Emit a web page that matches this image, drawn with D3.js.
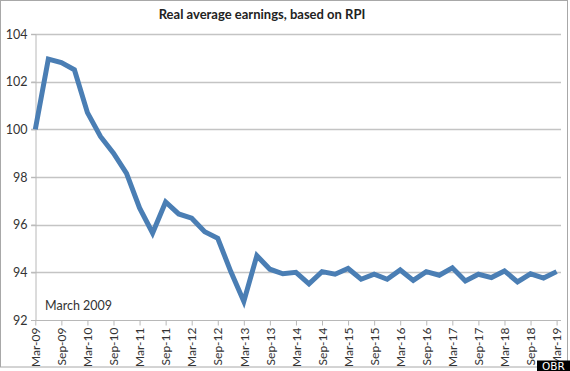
<!DOCTYPE html>
<html><head><meta charset="utf-8">
<script src="https://cdn.jsdelivr.net/npm/d3@7/dist/d3.min.js"></script>
<style>body{margin:0;background:#fff}svg{display:block}</style>
</head><body>
<svg id="c" width="570" height="371"></svg>
<script>
const title = "Real average earnings, based on RPI";
const tickLabels = ["Mar-09","Sep-09","Mar-10","Sep-10","Mar-11","Sep-11","Mar-12","Sep-12","Mar-13","Sep-13","Mar-14","Sep-14","Mar-15","Sep-15","Mar-16","Sep-16","Mar-17","Sep-17","Mar-18","Sep-18","Mar-19"];
const yTicks = [92, 94, 96, 98, 100, 102, 104];
// quarterly values, Mar-09 .. Mar-19
const values = [100.0, 102.95, 102.8, 102.5, 100.7, 99.7, 99.0, 98.15, 96.7, 95.65,
  96.95, 96.45, 96.27, 95.7, 95.43, 94.03, 92.78, 94.7, 94.13, 93.94,
  94.0, 93.52, 94.03, 93.92, 94.16, 93.71, 93.92, 93.71, 94.1, 93.66,
  94.03, 93.88, 94.19, 93.64, 93.92, 93.78, 94.06, 93.6, 93.94, 93.76, 94.03];
const annotation = "March 2009";
const source = "OBR";

const svg = d3.select("#c");
const x = d3.scaleLinear().domain([0, values.length - 1]).range([35.3, 556.6]);
const y = d3.scaleLinear().domain([92, 104]).range([320, 34]);

// frame
svg.append("rect").attr("x",0.5).attr("y",0.5).attr("width",567).attr("height",366.5)
  .attr("fill","none").attr("stroke","#a8a8a8").attr("stroke-width",1);

// gridlines
svg.append("g").selectAll("line").data(yTicks.filter(d=>d>92)).join("line")
  .attr("x1",31).attr("x2",561).attr("y1",d=>Math.round(y(d))+0.5).attr("y2",d=>Math.round(y(d))+0.5)
  .attr("stroke","#c4c4c4").attr("stroke-width",1.3);

// y axis
const ya = svg.append("g").attr("transform","translate(35.5,0)")
  .call(d3.axisLeft(y).tickValues(yTicks).tickSize(4).tickPadding(4).tickFormat(d3.format("d")));
ya.select(".domain").attr("stroke","#b8b8b8");
ya.selectAll(".tick line").attr("stroke","#b8b8b8");
ya.selectAll("text").attr("font-family","Lato, 'Open Sans', sans-serif").attr("font-size",12.5).attr("fill","#333");

// x axis
const xt = tickLabels.map((d,i)=>i*2);
const xa = svg.append("g").attr("transform","translate(0,320.5)")
  .call(d3.axisBottom(x).tickValues(xt).tickSize(5).tickSizeOuter(0).tickFormat((d,i)=>tickLabels[i]));
xa.select(".domain").attr("stroke","#b8b8b8").attr("d","M31,0H561");
xa.selectAll(".tick line").attr("stroke","#b8b8b8");
xa.selectAll("text").attr("font-family","Lato, 'Open Sans', sans-serif").attr("font-size",12).attr("fill","#333")
  .attr("transform","rotate(-90)").attr("text-anchor","end").attr("dy","0.35em").attr("x",-7).attr("y",0);

// line
svg.append("path").datum(values)
  .attr("d", d3.line().x((d,i)=>x(i)).y(d=>y(d)))
  .attr("fill","none").attr("stroke","#4a7eb4").attr("stroke-width",5).attr("stroke-linejoin","miter");

// title
svg.append("text").attr("x",262).attr("y",19).attr("text-anchor","middle")
  .attr("font-family","Lato, 'Open Sans', sans-serif").attr("font-weight","bold").attr("font-size",13).attr("fill","#222")
  .text(title);

// annotation
svg.append("text").attr("x",45).attr("y",310)
  .attr("font-family","Lato, 'Open Sans', sans-serif").attr("font-size",12.5).attr("fill","#333").text(annotation);

// source box
svg.append("rect").attr("x",537).attr("y",360.5).attr("width",33).attr("height",11).attr("fill","#000");
svg.append("text").attr("x",553.5).attr("y",370).attr("text-anchor","middle")
  .attr("font-family","'DejaVu Sans', sans-serif").attr("font-size",10.5).attr("fill","#fff").text(source);
</script>
</body></html>
